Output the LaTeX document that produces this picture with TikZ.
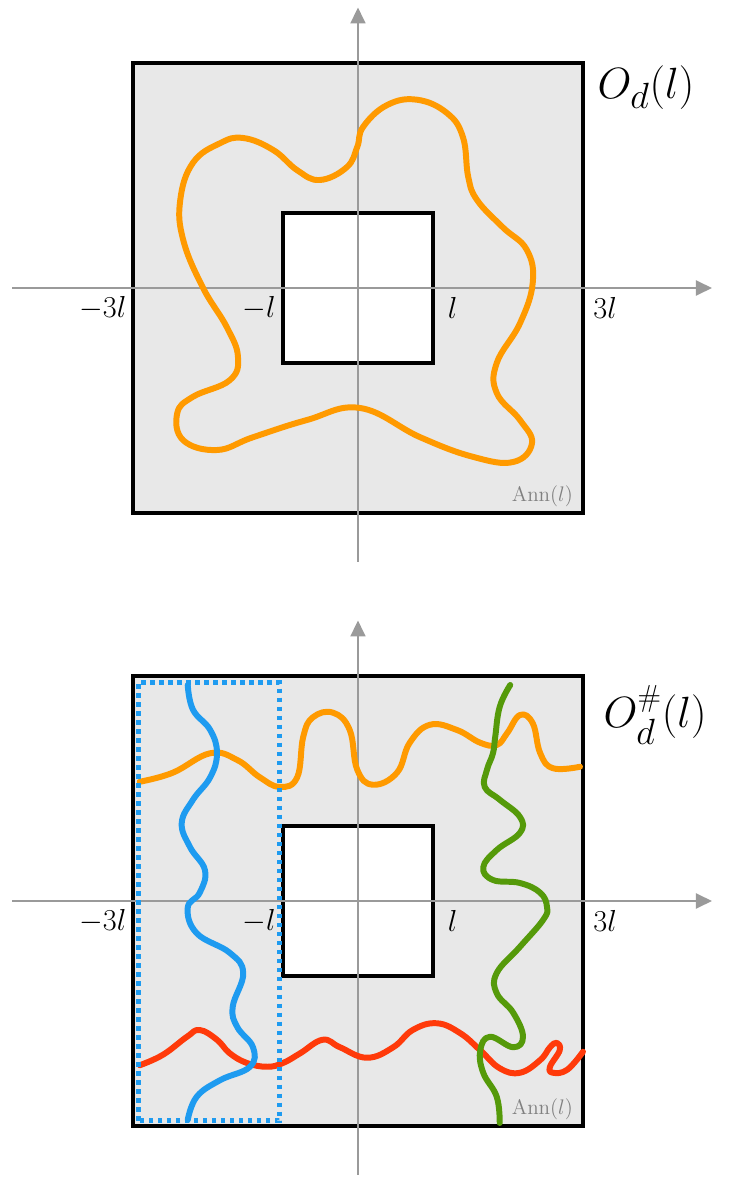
\documentclass[tikz,border=0pt]{standalone}
\usepackage{amsmath}
\usepackage{tikz}
\usetikzlibrary{arrows.meta}
\definecolor{annfill}{HTML}{E8E8E8}
\definecolor{axisgray}{HTML}{9A9A9A}
\definecolor{pathorange}{HTML}{FF9A00}
\definecolor{pathred}{HTML}{FF3A0A}
\definecolor{pathblue}{HTML}{1E9BF0}
\definecolor{pathgreen}{HTML}{559A0A}
\tikzset{
  frame/.style={draw=black, line width=2.2pt, fill=#1},
  frame/.default=annfill,
  axis/.style={axisgray, line width=1.1pt, -{Triangle[length=3.2mm,width=3mm]}},
  crosspath/.style={line width=3.4pt, line cap=round, line join=round, draw=#1},
  tick/.style={font=\LARGE, inner sep=1pt},
}

\begin{document}
\begin{tikzpicture}[x=1.5cm,y=1.5cm]
  \useasboundingbox (-4.773,3.84) rectangle (4.96,-11.893);
  % two panels: annulus, hole, axes, tick labels
  \foreach \oy/\name in {0/top, -8.173/bot} {
    \begin{scope}[shift={(0,\oy)}]
      \draw[frame] (-3,-3) rectangle (3,3);
      \draw[frame=white, line width=1.8pt] (-1,-1) rectangle (1,1);
      \draw[axis] (-4.61,0) -- (4.72,0);
      \draw[axis] (0,-3.65) -- (0,3.74);
      \node[tick, anchor=east] (\name-m3) at (-3.06,-0.27) {$-3l$};
      \node[tick, anchor=east] (\name-m1) at (-1.07,-0.27) {$-l$};
      \node[tick, anchor=west] (\name-p1) at (1.17,-0.27) {$l$};
      \node[tick, anchor=west] (\name-p3) at (3.11,-0.27) {$3l$};
      \node[anchor=base east, font=\large, text=black!50, inner sep=0pt] (\name-ann) at (2.87,-2.85) {Ann$(l)$};
    \end{scope}
  }
  \node[font=\Huge, anchor=west, inner sep=0pt] (title-top) at (3.19,2.67) {$O_d(l)$};
  \node[font=\Huge, anchor=west, inner sep=0pt] (title-bot) at (3.27,-5.693) {$O_d^{\scriptscriptstyle\#}(l)$};

  % closed circuit around the hole
  \draw[crosspath=pathorange] plot[smooth cycle, tension=0.7] coordinates {
    (-0.01,1.88) (0.07,2.15) (0.39,2.44) (0.79,2.51) (1.19,2.33) (1.40,2.01)
    (1.47,1.48) (1.59,1.17) (1.93,0.81) (2.25,0.51) (2.33,0.07) (2.16,-0.47)
    (1.85,-1.00) (1.85,-1.40) (2.16,-1.76) (2.32,-2.07) (2.07,-2.32) (1.53,-2.25)
    (0.83,-1.99) (0.03,-1.60) (-0.68,-1.76) (-1.40,-1.99) (-1.88,-2.16) (-2.33,-2.03)
    (-2.41,-1.67) (-2.20,-1.45) (-1.71,-1.23) (-1.60,-0.92) (-1.75,-0.52) (-2.07,0.01)
    (-2.33,0.64) (-2.37,1.17) (-2.20,1.67) (-1.84,1.93) (-1.53,2.00) (-1.13,1.84)
    (-0.81,1.57) (-0.51,1.44) (-0.15,1.61)};

  % four crossings of the annulus
  \begin{scope}[shift={(0,-8.173)}]
    \draw[crosspath=pathorange] plot[smooth, tension=0.7] coordinates {
      (-2.91,1.59) (-2.47,1.71) (-1.97,1.97) (-1.61,1.88) (-1.31,1.65) (-1.04,1.52)
      (-0.81,1.65) (-0.73,2.19) (-0.60,2.45) (-0.33,2.51) (-0.11,2.28) (-0.01,1.75)
      (0.20,1.55) (0.52,1.71) (0.69,2.11) (0.96,2.35) (1.32,2.28) (1.63,2.11)
      (1.85,2.08) (1.99,2.24) (2.16,2.48) (2.33,2.37) (2.43,1.97) (2.60,1.77) (2.96,1.79)};
    \draw[crosspath=pathred] plot[smooth, tension=0.7] coordinates {
      (-2.91,-2.19) (-2.60,-2.05) (-2.28,-1.81) (-2.11,-1.72) (-1.88,-1.85) (-1.71,-2.03)
      (-1.48,-2.16) (-1.21,-2.21) (-1.00,-2.16) (-0.77,-2.03) (-0.47,-1.85) (-0.24,-1.95)
      (0.12,-2.09) (0.47,-1.95) (0.73,-1.72) (1.05,-1.63) (1.36,-1.76) (1.63,-1.99)
      (1.89,-2.23) (2.16,-2.29) (2.43,-2.12) (2.56,-1.95) (2.65,-1.89) (2.69,-1.99)
      (2.56,-2.21) (2.60,-2.29) (2.79,-2.25) (3.00,-2.01)};
    \draw[crosspath=pathblue] plot[smooth, tension=0.7] coordinates {
      (-2.27,2.88) (-2.20,2.55) (-1.97,2.28) (-1.88,1.97) (-1.97,1.65) (-2.20,1.35)
      (-2.35,1.04) (-2.24,0.72) (-2.04,0.41) (-2.11,0.11) (-2.27,-0.09) (-2.15,-0.43)
      (-1.71,-0.69) (-1.53,-0.96) (-1.67,-1.41) (-1.61,-1.68) (-1.40,-1.95) (-1.44,-2.21)
      (-1.84,-2.39) (-2.15,-2.61) (-2.27,-2.92)};
    \draw[crosspath=pathgreen] plot[smooth, tension=0.7] coordinates {
      (2.03,2.88) (1.89,2.59) (1.83,2.19) (1.80,1.97) (1.72,1.75) (1.69,1.52)
      (1.89,1.35) (2.16,1.12) (2.16,0.91) (1.85,0.68) (1.67,0.45) (1.80,0.28)
      (2.16,0.24) (2.43,0.11) (2.52,-0.08) (2.47,-0.25) (2.16,-0.61) (1.85,-0.96)
      (1.85,-1.23) (2.07,-1.49) (2.20,-1.81) (2.07,-1.95) (1.76,-1.81) (1.63,-1.99)
      (1.67,-2.29) (1.85,-2.61) (1.89,-2.96)};
    % strip
    \draw[pathblue, line width=2.6pt, dash pattern=on 0.09cm off 0.09cm]
      (-2.93,-2.93) rectangle (-1.05,2.91);
  \end{scope}
\end{tikzpicture}
\end{document}
